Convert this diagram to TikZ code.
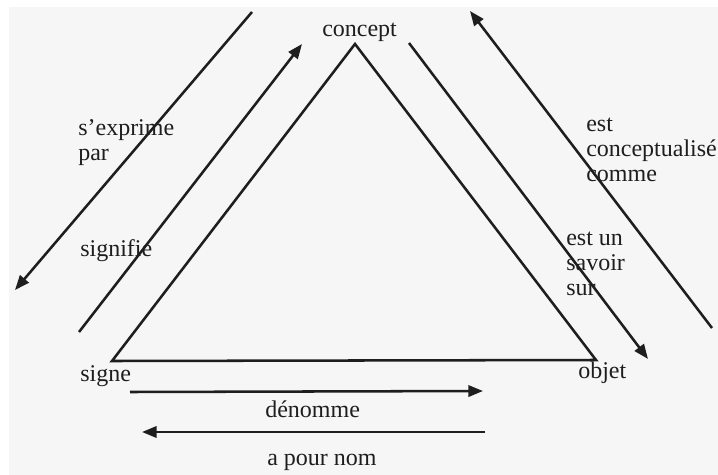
\documentclass[tikz,border=0pt]{standalone}
\usepackage{fontspec}
\setmainfont{Liberation Serif}
\usetikzlibrary{arrows.meta}
\definecolor{paper}{RGB}{246,246,246}
\definecolor{ink}{RGB}{30,30,30}

\begin{document}
\begin{tikzpicture}[
        x=0.75pt, y=-0.75pt,
        word/.style={inner sep=0pt, anchor=base west, align=left, text=ink, font=\fontsize{18}{18.75}\selectfont},
        side/.style={draw=ink, line width=1.9pt, line join=miter},
        arrow/.style={-{Triangle[length=11pt, width=8.5pt]}, draw=ink, line width=1.9pt}
    ]
    % page and background
    \useasboundingbox (0,0) rectangle (718,475);
    \fill[paper] (9,7) rectangle (718,475);

    % corners of the triangle
    \coordinate (apex) at (355,44);
    \coordinate (left) at (112,361);
    \coordinate (right) at (596,360);
    \draw[side] (apex) -- (left) -- (right) -- cycle;

    % corner labels
    \node[word] (concept) at (322,36) {concept};
    \node[word] (signe) at (80,381) {signe};
    \node[word] (objet) at (578,378) {objet};

    % ends of the arrows
    \coordinate (exp_a) at (252,12);
    \coordinate (exp_b) at (15,290);
    \coordinate (sig_a) at (79,332);
    \coordinate (sig_b) at (302,44);
    \coordinate (sav_a) at (409,43);
    \coordinate (sav_b) at (648,359);
    \coordinate (con_a) at (712,328);
    \coordinate (con_b) at (470,11);
    \coordinate (den_a) at (130,392);
    \coordinate (den_b) at (483,391);
    \coordinate (nom_a) at (485,432);
    \coordinate (nom_b) at (142,432);

    \draw[arrow] (exp_a) -- (exp_b);
    \draw[arrow] (sig_a) -- (sig_b);
    \draw[arrow] (sav_a) -- (sav_b);
    \draw[arrow] (con_a) -- (con_b);
    \draw[arrow] (den_a) -- (den_b);
    \draw[arrow] (nom_a) -- (nom_b);

    % arrow labels (base = last line)
    \node[word] (exprime) at (78,160) {s'exprime\\par};
    \node[word] (signifie) at (80,256) {signifie};
    \node[word] (conceptualise) at (586,181) {est\\conceptualisé\\comme};
    \node[word] (savoir) at (566,295) {est un\\savoir\\sur};
    \node[word] (denomme) at (265,417) {dénomme};
    \node[word] (pournom) at (267,465) {a pour nom};
\end{tikzpicture}
\end{document}
